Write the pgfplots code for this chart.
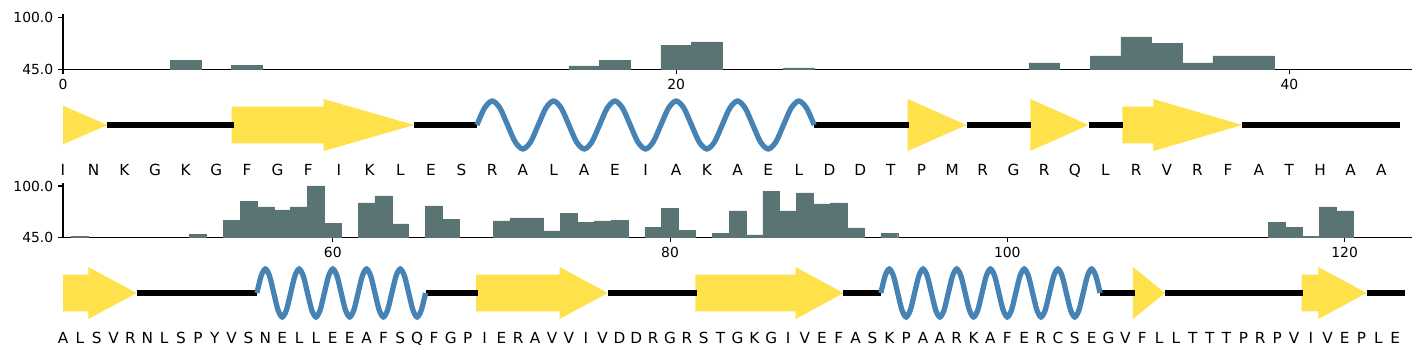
\documentclass[border=0pt]{standalone}
\usepackage{pgfplots}
\pgfplotsset{compat=1.18}
\usepackage{fontspec}
\setmainfont{DejaVu Sans}
\definecolor{barc}{HTML}{5A7473}
\definecolor{strandc}{HTML}{FEE14B}
\definecolor{helixc}{HTML}{4682B4}
\pgfplotsset{
  baraxis/.style={
    scale only axis, width=971.3bp,
    axis x line*=bottom, axis y line*=left,
    ymin=45, ymax=103.5, ytick={45,100},
    yticklabel={\pgfmathprintnumber[fixed,fixed zerofill,precision=1]{\tick}},
    tick align=outside, major tick length=3.5bp,
    every tick/.style={black, line width=0.8bp},
    axis line style={line width=0.8bp, -},
    /pgf/number format/assume math mode=true,
    tick label style={font=\fontsize{10bp}{12bp}\selectfont},
    minor tick num=0,
  },
  ssaxis/.style={
    scale only axis, width=971.3bp, height=43.2bp,
    ymin=-30, ymax=30, hide axis, clip=false,
  },
  bars/.style={ybar, bar width=1, fill=barc, draw=barc, line width=0.3bp},
  coil/.style={black, line width=3.8bp, line cap=butt},
  helix/.style={helixc, line width=3.8bp, smooth, line cap=butt},
  strand/.style={fill=strandc, draw=none},
  letters/.style={only marks, mark=*, mark size=0pt, mark options={draw=none,fill=none},
    nodes near coords, point meta=explicit symbolic,
    nodes near coords style={anchor=base, inner sep=0pt, font=\fontsize{11bp}{13bp}\selectfont}},
}
\begin{document}
\begin{tikzpicture}
\useasboundingbox (0,0) rectangle (1026bp,-256.32bp);
% ---------------- Row 1 bars
\begin{axis}[baraxis, at={(45.36bp,-49.9bp)}, anchor=south west, height=39.82bp,
  xmin=0, xmax=44, xtick={0,20,40}]
\addplot[bars] coordinates {(4,54.8)(6,49.5)(17,48.5)(18,54.8)(20,70.7)(21,73.9)(24,46.4)(32,51.7)(34,59.1)(35,79.2)(36,72.8)(37,51.7)(38,59.1)(39,59.1)};
\end{axis}
% ---------------- Row 1 structure
\begin{axis}[ssaxis, at={(45.36bp,-111.6bp)}, anchor=south west, xmin=0, xmax=44]
\addplot[strand] coordinates {(0,19.3)(1.45,0)(0,-19.3)};
\addplot[strand] coordinates {(5.5,18.3)(8.5,18.3)(8.5,26)(11.45,0)(8.5,-26)(8.5,-18.3)(5.5,-18.3)};
\addplot[strand] coordinates {(27.55,26)(29.47,0)(27.55,-26)};
\addplot[strand] coordinates {(31.55,26)(33.45,0)(31.55,-26)};
\addplot[strand] coordinates {(34.55,18.3)(35.56,18.3)(35.56,26)(38.46,0)(35.56,-26)(35.56,-18.3)(34.55,-18.3)};
\addplot[coil] coordinates {(1.45,0)(5.58,0)};
\addplot[coil] coordinates {(11.45,0)(13.5,0)};
\addplot[coil] coordinates {(24.5,0)(27.58,0)};
\addplot[coil] coordinates {(29.47,0)(31.58,0)};
\addplot[coil] coordinates {(33.45,0)(34.58,0)};
\addplot[coil] coordinates {(38.46,0)(43.6,0)};
\addplot[helix] coordinates {
(13.5,0)(13.75,16.97)(14,24)(14.25,16.97)(14.5,0)(14.75,-16.97)(15,-24)(15.25,-16.97)
(15.5,0)(15.75,16.97)(16,24)(16.25,16.97)(16.5,0)(16.75,-16.97)(17,-24)(17.25,-16.97)
(17.5,0)(17.75,16.97)(18,24)(18.25,16.97)(18.5,0)(18.75,-16.97)(19,-24)(19.25,-16.97)
(19.5,0)(19.75,16.97)(20,24)(20.25,16.97)(20.5,0)(20.75,-16.97)(21,-24)(21.25,-16.97)
(21.5,0)(21.75,16.97)(22,24)(22.25,16.97)(22.5,0)(22.75,-16.97)(23,-24)(23.25,-16.97)
(23.5,0)(23.75,16.97)(24,24)(24.25,16.97)(24.5,0)};
\addplot[letters] table[meta=s] {
x y s
0 -50 I
1 -50 N
2 -50 K
3 -50 G
4 -50 K
5 -50 G
6 -50 F
7 -50 G
8 -50 F
9 -50 I
10 -50 K
11 -50 L
12 -50 E
13 -50 S
14 -50 R
15 -50 A
16 -50 L
17 -50 A
18 -50 E
19 -50 I
20 -50 A
21 -50 K
22 -50 A
23 -50 E
24 -50 L
25 -50 D
26 -50 D
27 -50 T
28 -50 P
29 -50 M
30 -50 R
31 -50 G
32 -50 R
33 -50 Q
34 -50 L
35 -50 R
36 -50 V
37 -50 R
38 -50 F
39 -50 A
40 -50 T
41 -50 H
42 -50 A
43 -50 A
};
\end{axis}
% ---------------- Row 2 bars
\begin{axis}[baraxis, at={(45.36bp,-170.86bp)}, anchor=south west, height=39.3bp,
  xmin=44, xmax=124, xtick={60,80,100,120}]
\addplot[bars] coordinates {(45,46.1)(52,48.5)(54,63.5)(55,83.9)(56,77.5)(57,74.3)(58,77.5)(59,100)(60,60.3)(62,81.8)(63,89.3)(64,59.3)(66,78.6)(67,64.6)(70,62.5)(71,65.7)(72,65.7)(73,51.8)(74,71.0)(75,61.4)(76,62.5)(77,63.5)(79,56.0)(80,76.4)(81,52.8)(83,49.6)(84,73.2)(85,47.5)(86,94.6)(87,73.2)(88,92.5)(89,80.7)(90,81.8)(91,55.0)(93,49.6)(116,61.4)(117,56.0)(118,46.4)(119,77.5)(120,73.2)};
\end{axis}
% ---------------- Row 2 structure
\begin{axis}[ssaxis, at={(45.36bp,-232.56bp)}, anchor=south west, xmin=44, xmax=124]
\addplot[strand] coordinates {(44,18.3)(45.5,18.3)(45.5,26)(48.37,0)(45.5,-26)(45.5,-18.3)(44,-18.3)};
\addplot[strand] coordinates {(68.5,18.3)(73.45,18.3)(73.45,26)(76.3,0)(73.45,-26)(73.45,-18.3)(68.5,-18.3)};
\addplot[strand] coordinates {(81.5,18.3)(87.45,18.3)(87.45,26)(90.28,0)(87.45,-26)(87.45,-18.3)(81.5,-18.3)};
\addplot[strand] coordinates {(107.45,26)(109.35,0)(107.45,-26)};
\addplot[strand] coordinates {(117.45,18.3)(118.45,18.3)(118.45,26)(121.3,0)(118.45,-26)(118.45,-18.3)(117.45,-18.3)};
\addplot[coil] coordinates {(48.37,0)(55.5,0)};
\addplot[coil] coordinates {(65.5,0)(68.6,0)};
\addplot[coil] coordinates {(76.3,0)(81.6,0)};
\addplot[coil] coordinates {(90.28,0)(92.5,0)};
\addplot[coil] coordinates {(105.5,0)(107.55,0)};
\addplot[coil] coordinates {(109.35,0)(117.55,0)};
\addplot[coil] coordinates {(121.3,0)(123.6,0)};
\addplot[helix] coordinates {
(55.5,0)(55.75,16.97)(56,24)(56.25,16.97)(56.5,0)(56.75,-16.97)(57,-24)(57.25,-16.97)
(57.5,0)(57.75,16.97)(58,24)(58.25,16.97)(58.5,0)(58.75,-16.97)(59,-24)(59.25,-16.97)
(59.5,0)(59.75,16.97)(60,24)(60.25,16.97)(60.5,0)(60.75,-16.97)(61,-24)(61.25,-16.97)
(61.5,0)(61.75,16.97)(62,24)(62.25,16.97)(62.5,0)(62.75,-16.97)(63,-24)(63.25,-16.97)
(63.5,0)(63.75,16.97)(64,24)(64.25,16.97)(64.5,0)(64.75,-16.97)(65,-24)(65.25,-16.97)
(65.5,0)};
\addplot[helix] coordinates {
(92.5,0)(92.75,16.97)(93,24)(93.25,16.97)(93.5,0)(93.75,-16.97)(94,-24)(94.25,-16.97)
(94.5,0)(94.75,16.97)(95,24)(95.25,16.97)(95.5,0)(95.75,-16.97)(96,-24)(96.25,-16.97)
(96.5,0)(96.75,16.97)(97,24)(97.25,16.97)(97.5,0)(97.75,-16.97)(98,-24)(98.25,-16.97)
(98.5,0)(98.75,16.97)(99,24)(99.25,16.97)(99.5,0)(99.75,-16.97)(100,-24)(100.25,-16.97)
(100.5,0)(100.75,16.97)(101,24)(101.25,16.97)(101.5,0)(101.75,-16.97)(102,-24)(102.25,-16.97)
(102.5,0)(102.75,16.97)(103,24)(103.25,16.97)(103.5,0)(103.75,-16.97)(104,-24)(104.25,-16.97)
(104.5,0)(104.75,16.97)(105,24)(105.25,16.97)(105.5,0)};
\addplot[letters] table[meta=s] {
x y s
44 -50 A
45 -50 L
46 -50 S
47 -50 V
48 -50 R
49 -50 N
50 -50 L
51 -50 S
52 -50 P
53 -50 Y
54 -50 V
55 -50 S
56 -50 N
57 -50 E
58 -50 L
59 -50 L
60 -50 E
61 -50 E
62 -50 A
63 -50 F
64 -50 S
65 -50 Q
66 -50 F
67 -50 G
68 -50 P
69 -50 I
70 -50 E
71 -50 R
72 -50 A
73 -50 V
74 -50 V
75 -50 I
76 -50 V
77 -50 D
78 -50 D
79 -50 R
80 -50 G
81 -50 R
82 -50 S
83 -50 T
84 -50 G
85 -50 K
86 -50 G
87 -50 I
88 -50 V
89 -50 E
90 -50 F
91 -50 A
92 -50 S
93 -50 K
94 -50 P
95 -50 A
96 -50 A
97 -50 R
98 -50 K
99 -50 A
100 -50 F
101 -50 E
102 -50 R
103 -50 C
104 -50 S
105 -50 E
106 -50 G
107 -50 V
108 -50 F
109 -50 L
110 -50 L
111 -50 T
112 -50 T
113 -50 T
114 -50 P
115 -50 R
116 -50 P
117 -50 V
118 -50 I
119 -50 V
120 -50 E
121 -50 P
122 -50 L
123 -50 E
};
\end{axis}
\end{tikzpicture}
\end{document}
